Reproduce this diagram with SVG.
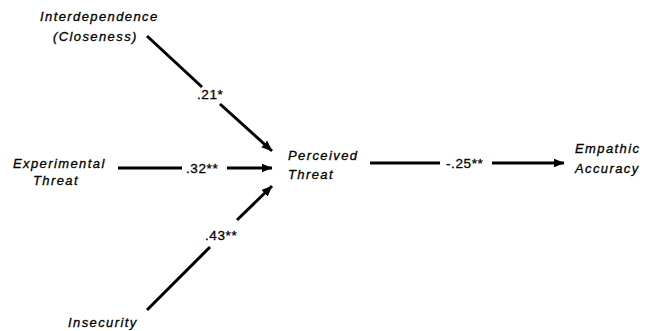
<svg xmlns="http://www.w3.org/2000/svg" width="652" height="331" viewBox="0 0 652 331">
<style>
.t{font-family:"Liberation Sans",Arial,sans-serif;font-style:italic;font-size:13px;letter-spacing:1.4px;fill:#000;stroke:#000;stroke-width:0.3}
.l{font-family:"Liberation Sans",Arial,sans-serif;font-size:13.5px;letter-spacing:0.6px;fill:#000;stroke:#000;stroke-width:0.3}
.c{stroke:#000;stroke-width:3;fill:none}
</style>
<defs>
<marker id="ah" markerUnits="userSpaceOnUse" markerWidth="11" markerHeight="9" viewBox="0 0 11 9" refX="10.5" refY="4.5" orient="auto">
<path d="M0,0 L11,4.5 L0,9 Z" fill="#000"/>
</marker>
</defs>
<rect width="652" height="331" fill="#fff"/>
<g id="interdependence"><text class="t" x="40" y="21">Interdependence</text><text class="t" x="53" y="41">(Closeness)</text></g>
<g id="experimental"><text class="t" x="13" y="168">Experimental</text><text class="t" x="33" y="185">Threat</text></g>
<g id="insecurity"><text class="t" x="68" y="327">Insecurity</text></g>
<g id="perceived"><text class="t" x="288" y="160">Perceived</text><text class="t" x="288" y="179">Threat</text></g>
<g id="empathic"><text class="t" x="575" y="153">Empathic</text><text class="t" x="575" y="173">Accuracy</text></g>
<g id="connectors">
<line class="c" x1="147" y1="36" x2="202" y2="87"/>
<line class="c" x1="220" y1="104" x2="272" y2="151" marker-end="url(#ah)"/>
<text class="l" x="197" y="99">.21*</text>
<line class="c" x1="118" y1="168" x2="182" y2="168"/>
<line class="c" x1="227" y1="168" x2="272" y2="168" marker-end="url(#ah)"/>
<text class="l" x="186" y="173">.32**</text>
<line class="c" x1="147" y1="310" x2="210" y2="247"/>
<line class="c" x1="237" y1="220" x2="272" y2="186" marker-end="url(#ah)"/>
<text class="l" x="205" y="240">.43**</text>
<line class="c" x1="370" y1="163" x2="440" y2="163"/>
<line class="c" x1="492" y1="163" x2="564" y2="163" marker-end="url(#ah)"/>
<text class="l" x="446" y="168">-.25**</text>
</g>
</svg>
